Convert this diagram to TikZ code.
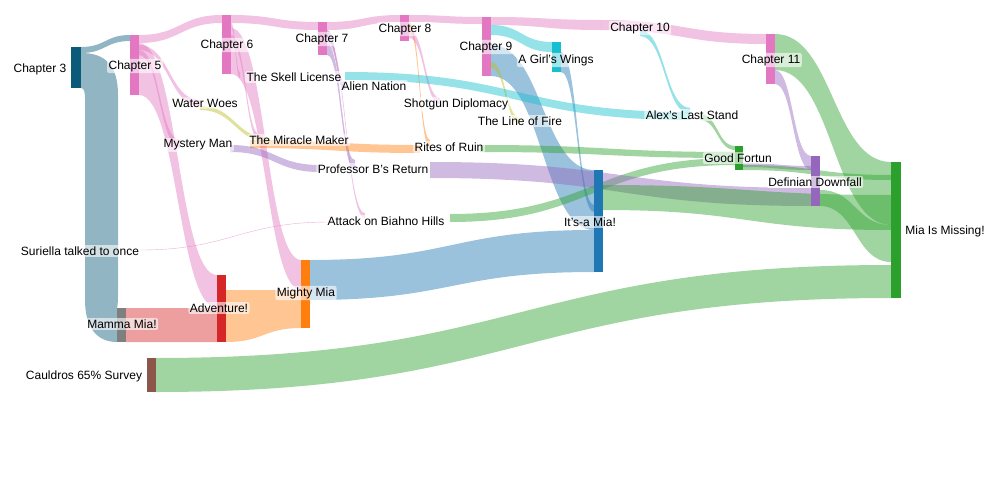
\documentclass[tikz,border=0pt]{standalone}
\usepackage{fontspec}
\setmainfont{Liberation Sans}
\definecolor{pk}{HTML}{E377C2}
\definecolor{tl}{HTML}{0B5A7A}
\definecolor{cy}{HTML}{17BECF}
\definecolor{bl}{HTML}{1F77B4}
\definecolor{gr}{HTML}{2CA02C}
\definecolor{pu}{HTML}{9467BD}
\definecolor{og}{HTML}{FF7F0E}
\definecolor{rd}{HTML}{D62728}
\definecolor{gy}{HTML}{7F7F7F}
\definecolor{br}{HTML}{8C564B}
\definecolor{yl}{HTML}{BCBD22}
\newcommand\flow[7]{\fill[#7,opacity=.45] (#1,#2) .. controls ({(#1+#4)/2},#2) and ({(#1+#4)/2},#5) .. (#4,#5) -- (#4,#6) .. controls ({(#1+#4)/2},#6) and ({(#1+#4)/2},#3) .. (#1,#3) -- cycle;}
\newcommand\sbar[6]{\fill[#6] (#2,#3) rectangle (#4,#5); \coordinate (#1) at ({(#2+#4)/2},{(#3+#5)/2});}
\tikzset{lab/.style={fill=white,fill opacity=.6,text opacity=1,rounded corners=2pt,inner sep=1.5pt,font=\fontsize{12}{13}\selectfont}}
\begin{document}
\begin{tikzpicture}[x=1pt,y=-1pt]
\useasboundingbox (0,0) rectangle (1000,500);
% flows
\flow{81}{47}{53}{130}{35}{41}{tl}
\fill[tl,opacity=.45] (81,53) .. controls (105,53) and (118,65) .. (118,95) -- (118,295) .. controls (118,305) and (117,308) .. (117,308) -- (117,342) .. controls (95,342) and (85,325) .. (85,300) -- (85,98) .. controls (85,92) and (84,88) .. (81,88) -- cycle;
\flow{139}{35}{43}{222}{15}{23}{pk}
\flow{139}{43}{95}{217}{275}{308}{pk}
\flow{139}{45}{50}{200}{100}{106}{pk}
\flow{139}{50}{55}{180}{140}{148}{pk}
\flow{126}{308}{342}{217}{308}{342}{rd}
\flow{231}{15}{23}{318}{22}{30}{pk}
\flow{231}{23}{28}{240}{72}{78}{pk}
\flow{231}{28}{74}{301}{260}{290}{pk}
\flow{231}{35}{42}{260}{135}{142}{pk}
\flow{226}{290}{342}{301}{290}{328}{og}
\flow{310}{260}{300}{594}{230}{272}{bl}
\flow{327}{22}{30}{400}{15}{22}{pk}
\flow{327}{30}{38}{345}{82}{90}{pu}
\flow{327}{38}{44}{365}{213}{218}{pk}
\flow{327}{44}{55}{355}{160}{170}{pu}
\flow{409}{15}{22}{482}{17}{24}{pk}
\flow{409}{22}{30}{430}{140}{148}{og}
\flow{409}{30}{38}{440}{98}{104}{pk}
\flow{491}{17}{25}{600}{20}{30}{pk}
\flow{491}{25}{35}{552}{42}{52}{cy}
\flow{491}{45}{76}{594}{170}{230}{bl}
\flow{491}{62}{68}{520}{118}{124}{yl}
\flow{561}{52}{72}{594}{205}{212}{bl}
\flow{345}{72}{80}{690}{112}{120}{cy}
\flow{600}{20}{30}{766}{34}{44}{pk}
\flow{640}{30}{36}{690}{108}{114}{cy}
\flow{700}{114}{120}{735}{146}{150}{gr}
\flow{480}{145}{152}{735}{152}{158}{gr}
\flow{450}{214}{222}{735}{158}{165}{gr}
\flow{743}{163}{167}{811}{166}{170}{pu}
\flow{743}{165}{170}{891}{175}{180}{gr}
\flow{430}{162}{178}{811}{188}{206}{pu}
\flow{250}{140}{148}{420}{145}{153}{og}
\flow{200}{106}{110}{270}{138}{142}{yl}
\flow{230}{145}{152}{320}{165}{172}{pu}
\flow{775}{34}{70}{891}{162}{225}{gr}
\flow{775}{70}{84}{811}{156}{170}{pu}
\flow{820}{190}{206}{891}{225}{262}{gr}
\flow{603}{185}{210}{891}{195}{230}{gr}
\flow{156}{358}{392}{891}{265}{298}{gr}
\draw[pk,opacity=.6,thin] (140,250) .. controls (230,250) and (240,222) .. (330,222);
% bars
\sbar{c3}{71}{47}{81}{88}{tl}
\sbar{c5}{130}{35}{139}{95}{pk}
\sbar{c6}{222}{15}{231}{74}{pk}
\sbar{c7}{318}{22}{327}{55}{pk}
\sbar{c8}{400}{15}{409}{41}{pk}
\sbar{c9}{482}{17}{491}{76}{pk}
\sbar{c11}{766}{34}{775}{84}{pk}
\sbar{gw}{552}{42}{561}{72}{cy}
\sbar{mm}{891}{162}{901}{298}{gr}
\sbar{im}{594}{170}{603}{272}{bl}
\sbar{dd}{811}{156}{820}{206}{pu}
\sbar{gf}{735}{146}{743}{170}{gr}
\sbar{my}{301}{260}{310}{328}{og}
\sbar{ad}{217}{275}{226}{342}{rd}
\sbar{ma}{117}{308}{126}{342}{gy}
\sbar{cs}{147}{358}{156}{392}{br}
% labels
\node[lab] (l1) at (40,69) {Chapter 3};
\node[lab] (l2) at (135,66) {Chapter 5};
\node[lab] (l3) at (227,45) {Chapter 6};
\node[lab] (l4) at (322,39) {Chapter 7};
\node[lab] (l5) at (405,29) {Chapter 8};
\node[lab] (l6) at (486,47) {Chapter 9};
\node[lab] (l7) at (640,28) {Chapter 10};
\node[lab] (l8) at (771,60) {Chapter 11};
\node[lab] (l9) at (556,60) {A Girl's Wings};
\node[lab] (l10) at (945,231) {Mia Is Missing!};
\node[lab] (l11) at (590,222) {It's-a Mia!};
\node[lab] (l12) at (815,182) {Definian Downfall};
\node[lab] (l13) at (738,158) {Good Fortun};
\node[lab] (l14) at (692,115) {Alex's Last Stand};
\node[lab] (l15) at (306,293) {Mighty Mia};
\node[lab] (l16) at (219,308) {Adventure!};
\node[lab] (l17) at (122,324) {Mamma Mia!};
\node[lab] (l18) at (84,376) {Cauldros 65\% Survey};
\node[lab] (l19) at (80,251) {Suriella talked to once};
\node[lab] (l20) at (205,103) {Water Woes};
\node[lab] (l21) at (198,145) {Mystery Man};
\node[lab] (l22) at (294,77) {The Skell License};
\node[lab] (l23) at (374,86) {Alien Nation};
\node[lab] (l24) at (456,104) {Shotgun Diplomacy};
\node[lab] (l25) at (520,121) {The Line of Fire};
\node[lab] (l26) at (299,140) {The Miracle Maker};
\node[lab] (l27) at (449,147) {Rites of Ruin};
\node[lab] (l28) at (373,169) {Professor B's Return};
\node[lab] (l29) at (386,221) {Attack on Biahno Hills};
\end{tikzpicture}
\end{document}
